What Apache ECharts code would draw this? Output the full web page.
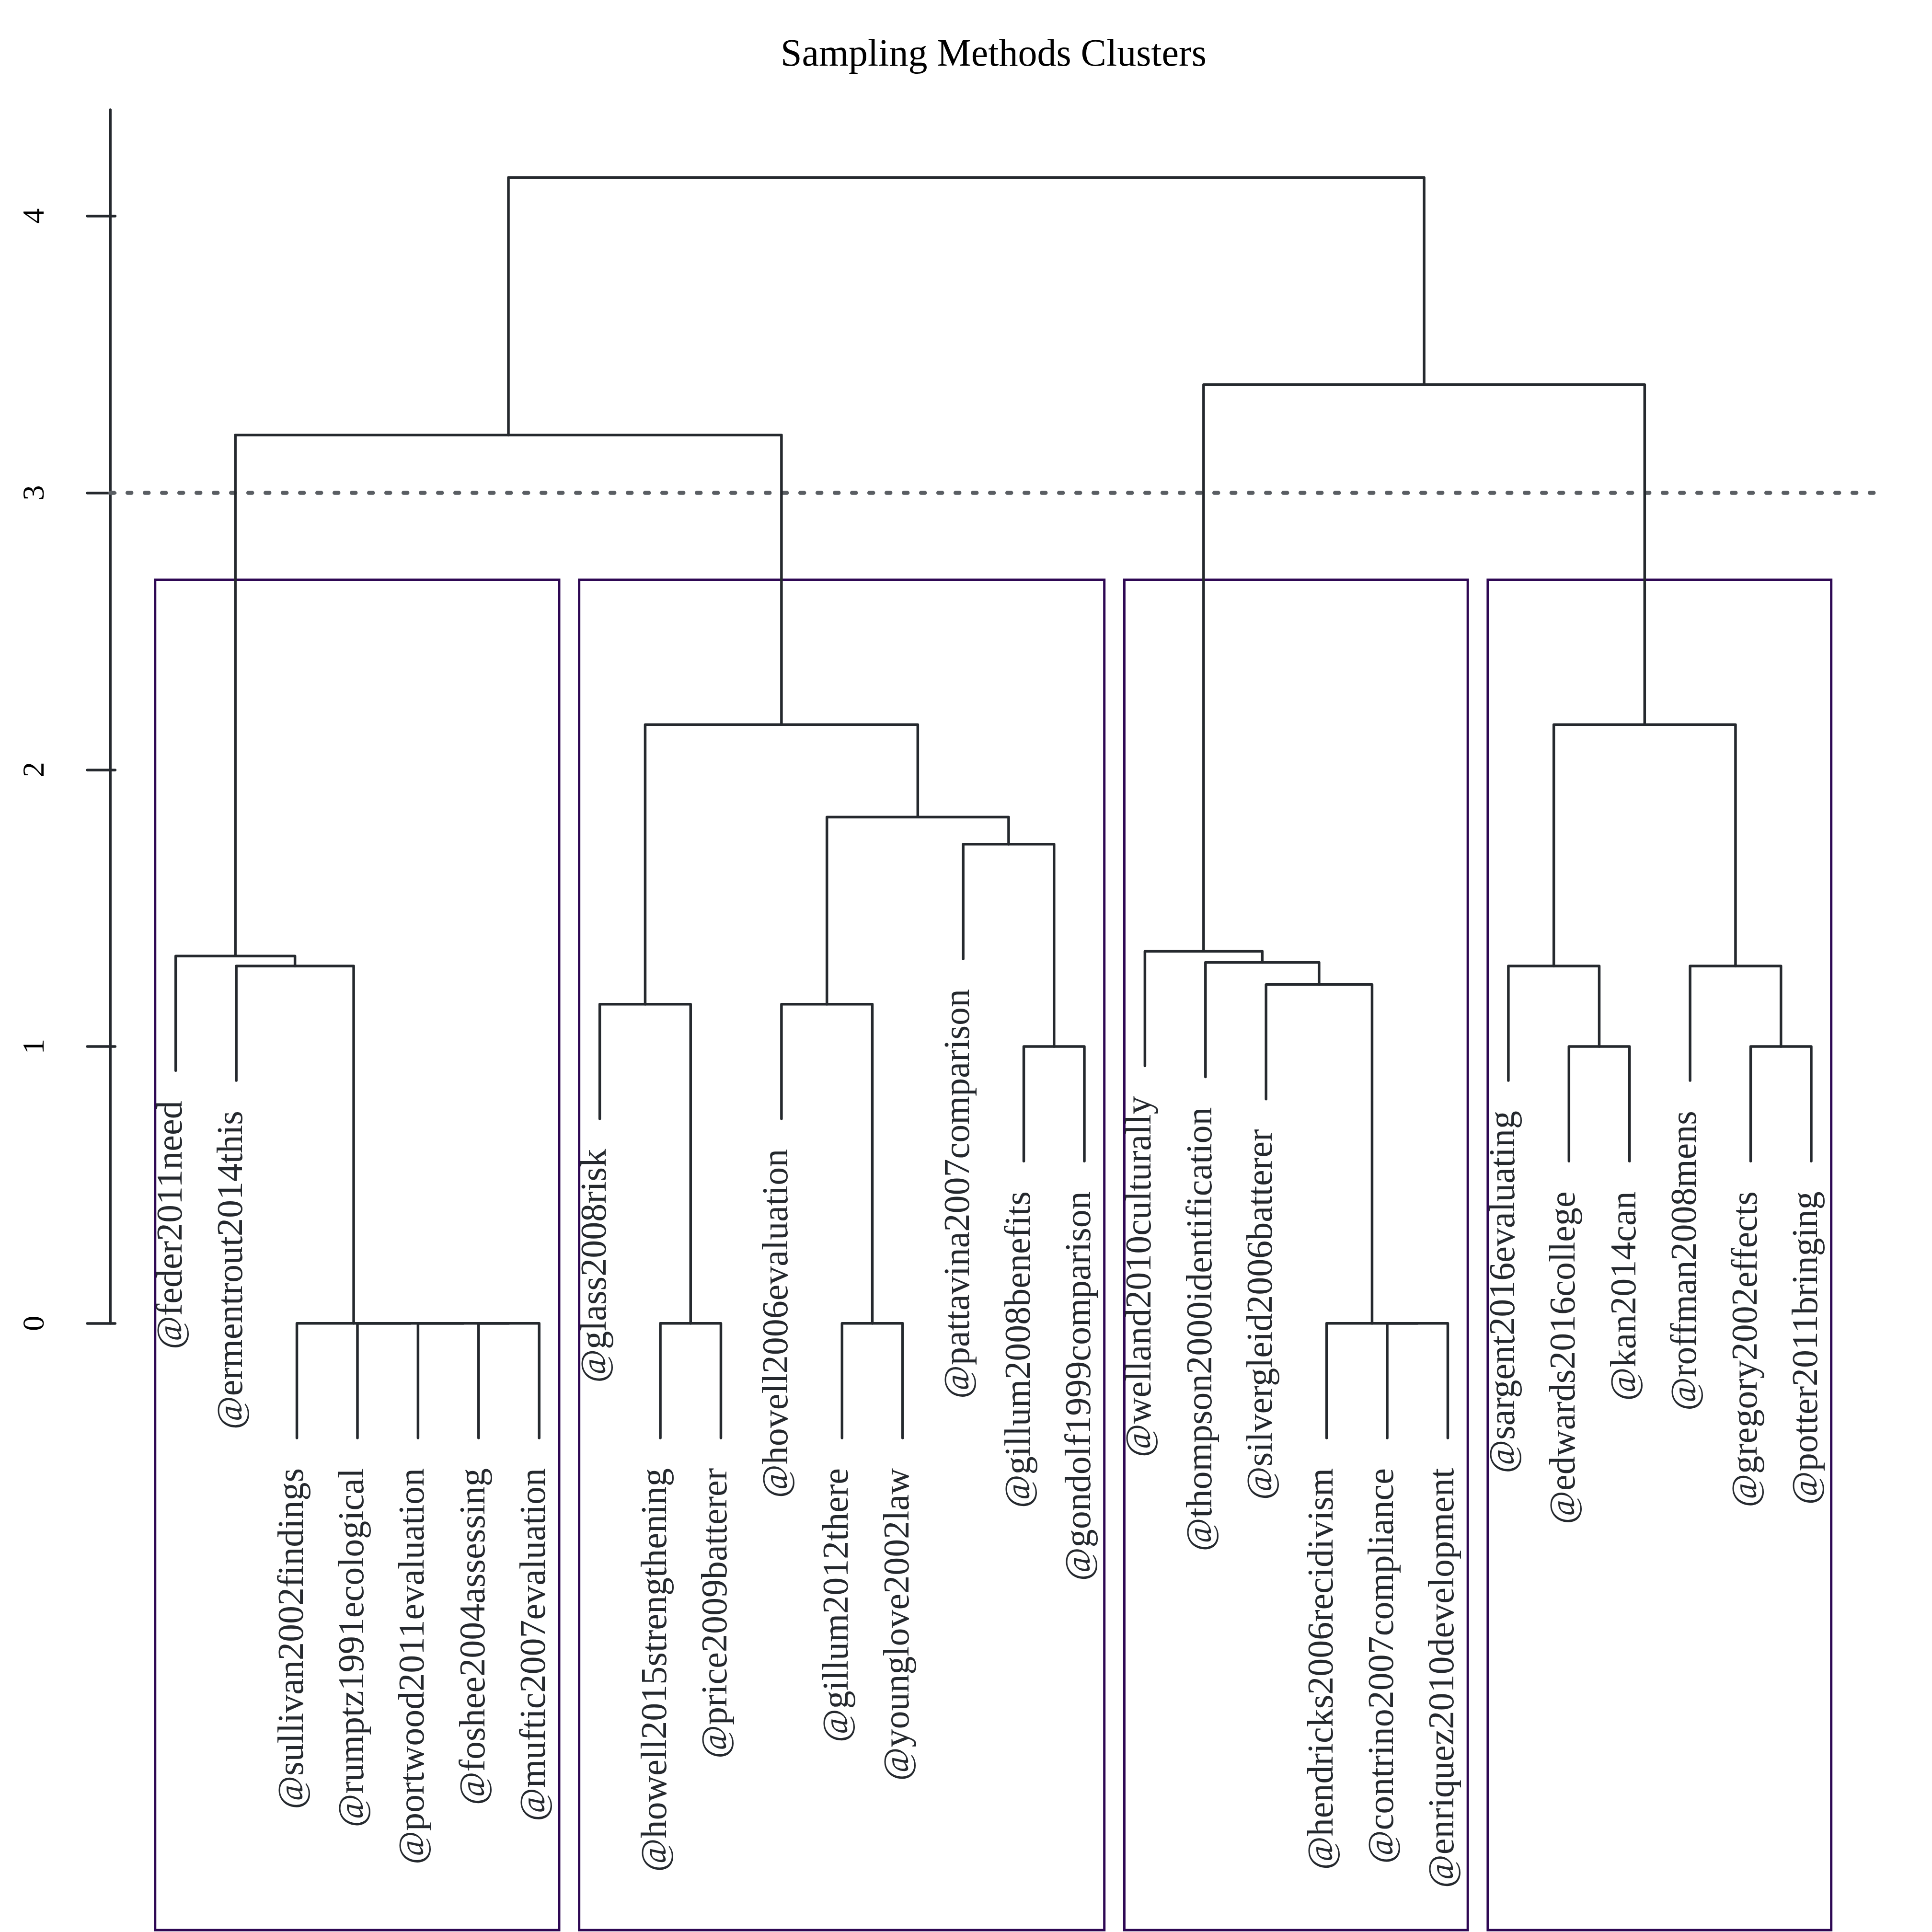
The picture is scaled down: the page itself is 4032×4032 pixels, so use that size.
<!DOCTYPE html>
<html><head><meta charset="utf-8">
<script src="https://cdn.jsdelivr.net/npm/echarts@6/dist/echarts.min.js"></script>
<style>html,body{margin:0;padding:0;background:#fff}#c{width:4032px;height:4032px}</style>
</head><body><div id="c"></div>
<script>
// ---- data ----
const leafLabels = [
  "@feder2011need","@ermentrout2014this","@sullivan2002findings","@rumptz1991ecological",
  "@portwood2011evaluation","@foshee2004assessing","@muftic2007evaluation",
  "@glass2008risk","@howell2015strengthening","@price2009batterer","@hovell2006evaluation",
  "@gillum2012there","@younglove2002law","@pattavina2007comparison","@gillum2008benefits",
  "@gondolf1999comparison","@welland2010culturally","@thompson2000identification",
  "@silvergleid2006batterer","@hendricks2006recidivism","@contrino2007compliance",
  "@enriquez2010development","@sargent2016evaluating","@edwards2016college","@kan2014can",
  "@roffman2008mens","@gregory2002effects","@potter2011bringing"
];
// R hclust-style merges: negative = leaf (1-based display order), positive = earlier merge
const mergeLeft   = [-6, -5, -4, -3, -9, -12, -21, -20, -15, -24, -27, -8, -11, -19, -2, -23, -26, -18, -1, -17, -14, 13, 12, 16, 19, 20, 25];
const mergeRight  = [-7,  1,  2,  3, -10, -13, -22,  7, -16, -25, -28,  5,   6,   8,  4,  10,  11,  14, 15,  18,   9, 21, 22, 17, 23, 24, 26];
const mergeHeight = [0, 0, 0, 0, 0, 0, 0, 0, 1.0, 1.0, 1.0, 1.153, 1.153, 1.224, 1.291, 1.291, 1.291, 1.304, 1.327, 1.344, 1.731, 1.829, 2.163, 2.163, 3.209, 3.391, 4.139];
const clusterSizes = [7, 9, 6, 6];
const cutHeight = 3;
const yTicks = [0, 1, 2, 3, 4];
const hangFraction = 0.1;

// ---- derived ----
const n = leafLabels.length;
const xMin = 1 - 0.04 * (n - 1), xMax = n + 0.04 * (n - 1);
const yMax = 4.384, yMin = -2.195;
const hMax = Math.max(...mergeHeight);
const hang = hangFraction * hMax;
const center = [], parentH = new Array(n + 1);
function cx(id) { return id < 0 ? -id : center[id - 1]; }
const treeData = [];
mergeHeight.forEach((h, i) => {
  const a = mergeLeft[i], b = mergeRight[i];
  center.push((cx(a) + cx(b)) / 2);
  if (a < 0) parentH[-a] = h;
  if (b < 0) parentH[-b] = h;
  const ya = a < 0 ? h - hang : mergeHeight[a - 1];
  const yb = b < 0 ? h - hang : mergeHeight[b - 1];
  treeData.push([cx(a), ya, cx(b), yb, h]);
});
const labelData = leafLabels.map((s, i) => [i + 1, parentH[i + 1] - hang, i]);
const sortedH = mergeHeight.slice().sort((p, q) => q - p);
const k = clusterSizes.length;
const boxTop = (sortedH[k - 2] + sortedH[k - 1]) / 2;
const boxData = [];
let cum = 0;
clusterSizes.forEach(sz => { boxData.push([cum + 0.66, cum + sz + 0.33, boxTop]); cum += sz; });

const LINE = '#25292e';
const chart = echarts.init(document.getElementById('c'), null, { renderer: 'canvas' });
const gridLeft = 230.2, gridTop = 229, gridW = 3686.3, gridH = 3801;
chart.setOption({
  animation: false,
  backgroundColor: '#ffffff',
  graphic: [{
    type: 'text', x: gridLeft + gridW / 2, y: 116,
    style: { text: 'Sampling Methods Clusters', font: '80px "Liberation Serif"', fill: '#000', align: 'center', verticalAlign: 'middle' }
  }],
  grid: { left: gridLeft, top: gridTop, width: gridW, height: gridH },
  xAxis: { type: 'value', min: xMin, max: xMax, show: false },
  yAxis: {
    type: 'value', min: yMin, max: yMax,
    axisLine: { show: false },
    splitLine: { show: false },
    axisTick: { show: true, customValues: yTicks, length: 58, lineStyle: { color: LINE, width: 5.5, cap: 'round' } },
    axisLabel: { show: true, customValues: yTicks, rotate: 90, margin: 124, fontSize: 64, fontFamily: 'Liberation Serif', color: '#000' }
  },
  series: [
    {
      type: 'custom', silent: true,
      data: [[xMin, 0, yMax]],
      renderItem: (p, api) => {
        const a = api.coord([api.value(0), api.value(1)]), b = api.coord([api.value(0), api.value(2)]);
        return { type: 'line', shape: { x1: a[0], y1: a[1], x2: b[0], y2: b[1] }, style: { stroke: LINE, lineWidth: 5.5, lineCap: 'round' } };
      }
    },
    {
      type: 'custom', silent: true,
      data: [[xMin, cutHeight, xMax]],
      renderItem: (p, api) => {
        const a = api.coord([api.value(0), api.value(1)]), b = api.coord([api.value(2), api.value(1)]);
        return { type: 'line', shape: { x1: a[0], y1: a[1], x2: b[0], y2: b[1] }, style: { stroke: '#5a5e63', lineWidth: 8.5, lineCap: 'round', lineDash: [8, 28] } };
      }
    },
    {
      type: 'custom', silent: true,
      data: boxData,
      renderItem: (p, api) => {
        const a = api.coord([api.value(0), api.value(2)]), b = api.coord([api.value(1), yMin]);
        return { type: 'rect', shape: { x: a[0], y: a[1], width: b[0] - a[0], height: b[1] - a[1] - 2 }, style: { fill: 'none', stroke: '#2e0854', lineWidth: 5 } };
      }
    },
    {
      type: 'custom', silent: true,
      data: treeData,
      renderItem: (p, api) => {
        const p1 = api.coord([api.value(0), api.value(1)]);
        const p2 = api.coord([api.value(0), api.value(4)]);
        const p3 = api.coord([api.value(2), api.value(4)]);
        const p4 = api.coord([api.value(2), api.value(3)]);
        return { type: 'polyline', shape: { points: [p1, p2, p3, p4] }, style: { fill: 'none', stroke: LINE, lineWidth: 5.5, lineCap: 'round', lineJoin: 'round' } };
      }
    },
    {
      type: 'custom', silent: true,
      data: labelData,
      renderItem: (p, api) => {
        const c = api.coord([api.value(0), api.value(1)]);
        return { type: 'text', x: c[0] - 8, y: c[1] + 63, rotation: Math.PI / 2,
          style: { text: leafLabels[api.value(2)], font: '76px "Liberation Serif"', fill: LINE, align: 'right', verticalAlign: 'middle' } };
      }
    }
  ]
});
</script></body></html>
